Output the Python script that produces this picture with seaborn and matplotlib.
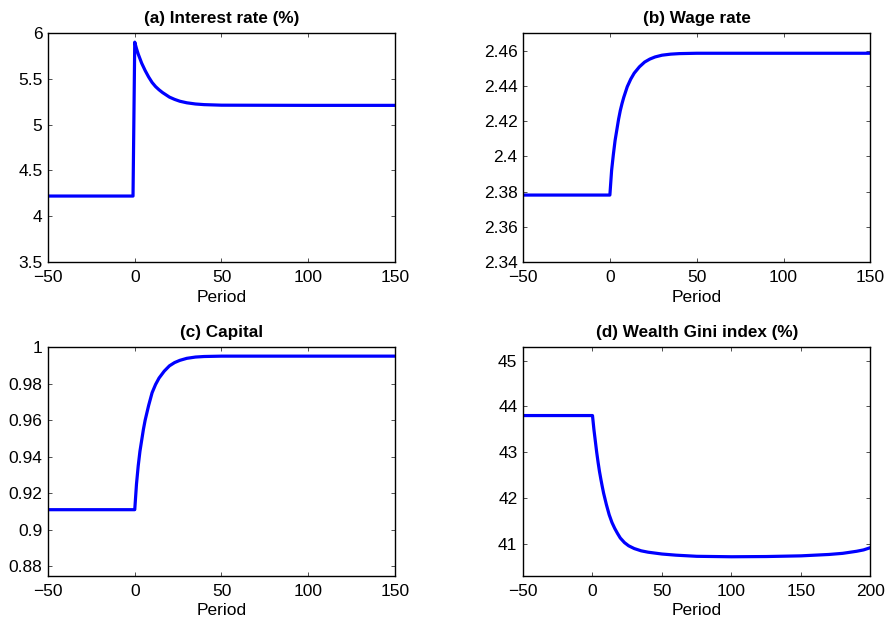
import numpy as np
import pandas as pd
import matplotlib
matplotlib.use("Agg")
import matplotlib.pyplot as plt
import seaborn as sns

sns.set_style("white")
plt.rcParams['font.family'] = ['Liberation Sans', 'DejaVu Sans']
plt.rcParams['text.color'] = 'black'
plt.rcParams['axes.labelcolor'] = 'black'
plt.rcParams['xtick.color'] = 'black'
plt.rcParams['ytick.color'] = 'black'

# ---- data ----
rate_period = [-50, -1, 0, 1, 2, 3, 4, 5, 6, 7, 8, 9, 10, 12, 14, 16, 18, 20, 23, 26,
               30, 35, 40, 50, 100, 150]
rate_value = [4.22, 4.22, 5.90, 5.83, 5.77, 5.72, 5.67, 5.63, 5.59, 5.555, 5.52, 5.49,
              5.46, 5.415, 5.38, 5.35, 5.325, 5.30, 5.275, 5.255, 5.238, 5.225, 5.218,
              5.212, 5.21, 5.21]

wage_period = [-50, 0, 1, 2, 3, 4, 5, 6, 7, 8, 10, 12, 14, 17, 20, 23, 26, 30, 35, 40,
               50, 100, 150]
wage_value = [2.378, 2.378, 2.392, 2.401, 2.409, 2.415, 2.421, 2.426, 2.430, 2.4335,
              2.4395, 2.4438, 2.4472, 2.4508, 2.4535, 2.4552, 2.4564, 2.4574, 2.4580,
              2.4583, 2.4585, 2.4585, 2.4585]

cap_period = [-50, 0, 1, 2, 3, 4, 5, 6, 7, 8, 10, 12, 14, 17, 20, 23, 26, 30, 35, 40,
              50, 100, 150]
cap_value = [0.911, 0.911, 0.925, 0.935, 0.943, 0.949, 0.955, 0.960, 0.964, 0.968,
             0.975, 0.9795, 0.983, 0.9868, 0.9897, 0.9915, 0.9927, 0.9938, 0.9945,
             0.9948, 0.995, 0.995, 0.995]

gini_period = [-50, 0, 1, 2, 3, 4, 5, 6, 7, 8, 10, 12, 14, 16, 18, 20, 23, 26, 30, 35,
               40, 50, 60, 75, 100, 125, 150, 170, 180, 190, 195, 200]
gini_value = [43.8, 43.8, 43.5, 43.25, 43.0, 42.78, 42.58, 42.41, 42.25, 42.1, 41.85,
              41.63, 41.46, 41.33, 41.22, 41.12, 41.02, 40.95, 40.89, 40.84, 40.81,
              40.77, 40.745, 40.72, 40.71, 40.715, 40.73, 40.76, 40.785, 40.83, 40.86,
              40.91]

panels = [
    dict(title="(a) Interest rate (%)", x=rate_period, y=rate_value,
         xlim=(-50, 150), xticks=[-50, 0, 50, 100, 150],
         ylim=(3.5, 6), yticks=[3.5, 4, 4.5, 5, 5.5, 6],
         yticklabels=["3.5", "4", "4.5", "5", "5.5", "6"]),
    dict(title="(b) Wage rate", x=wage_period, y=wage_value,
         xlim=(-50, 150), xticks=[-50, 0, 50, 100, 150],
         ylim=(2.34, 2.47), yticks=[2.34, 2.36, 2.38, 2.40, 2.42, 2.44, 2.46],
         yticklabels=["2.34", "2.36", "2.38", "2.4", "2.42", "2.44", "2.46"]),
    dict(title="(c) Capital", x=cap_period, y=cap_value,
         xlim=(-50, 150), xticks=[-50, 0, 50, 100, 150],
         ylim=(0.875, 1.0), yticks=[0.88, 0.90, 0.92, 0.94, 0.96, 0.98, 1.0],
         yticklabels=["0.88", "0.9", "0.92", "0.94", "0.96", "0.98", "1"]),
    dict(title="(d) Wealth Gini index (%)", x=gini_period, y=gini_value,
         xlim=(-50, 200), xticks=[-50, 0, 50, 100, 150, 200],
         ylim=(40.3, 45.3), yticks=[41, 42, 43, 44, 45],
         yticklabels=["41", "42", "43", "44", "45"]),
]

W, H = 887, 623
fig = plt.figure(figsize=(W / 100, H / 100), dpi=100)

boxes = [(48, 33, 395, 262), (523, 33, 870.5, 262),
         (48, 347, 395, 575.5), (523, 347, 870.5, 575.5)]

for p, (l, t, r, b) in zip(panels, boxes):
    ax = fig.add_axes([l / W, 1 - b / H, (r - l) / W, (b - t) / H])
    df = pd.DataFrame({"Period": p["x"], "v": p["y"]})
    sns.lineplot(data=df, x="Period", y="v", ax=ax, color="#0000ff", linewidth=2.3,
                 estimator=None, sort=False)
    ax.set_xlim(*p["xlim"])
    ax.set_ylim(*p["ylim"])
    ax.set_xticks(p["xticks"])
    ax.set_xticklabels(["\u221250" if v == -50 else str(v) for v in p["xticks"]])
    ax.set_yticks(p["yticks"])
    ax.set_yticklabels(p["yticklabels"])
    ax.set_xlabel("Period", fontsize=12.5, labelpad=3, color="black")
    ax.set_ylabel("")
    ax.set_title(p["title"], fontsize=12.3, fontweight="bold", pad=7, color="black")
    ax.tick_params(axis="x", pad=6)
    ax.tick_params(axis="y", pad=4)
    ax.tick_params(direction="in", length=3, width=0.6, labelsize=12.5,
                   top=True, right=True, bottom=True, left=True,
                   color="#333333", labelcolor="black")
    for s in ax.spines.values():
        s.set_visible(True)
        s.set_linewidth(1.0)
        s.set_color("black")

fig.savefig("out.png", dpi=100)
